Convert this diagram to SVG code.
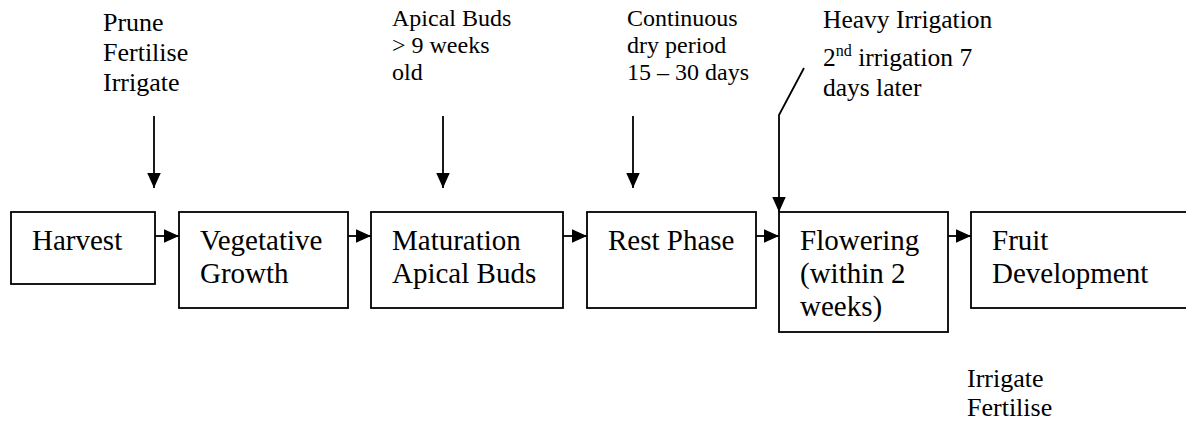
<svg xmlns="http://www.w3.org/2000/svg" width="1186" height="425" viewBox="0 0 1186 425">
<style>
.box{fill:#fff;stroke:#000;stroke-width:1.8}
.t{font-family:"Liberation Serif","Times New Roman",serif;fill:#000}
.bt{font-size:29px}
.lt{font-size:24px}
.lt2{font-size:26px}
.c{stroke:#000;stroke-width:1.8;fill:none}
</style>
<defs>
<marker id="ahv" viewBox="0 0 10 10" refX="10" refY="5" markerWidth="15" markerHeight="15" orient="auto" markerUnits="userSpaceOnUse">
<path d="M0,0.5 L10,5 L0,9.5 z" fill="#000"/>
</marker>
</defs>
<rect width="1186" height="425" fill="#fff"/>

<g id="connectors">
<line class="c" x1="155" y1="236" x2="179" y2="236" marker-end="url(#ahv)"/>
<line class="c" x1="348" y1="236" x2="371" y2="236" marker-end="url(#ahv)"/>
<line class="c" x1="563" y1="236" x2="587" y2="236" marker-end="url(#ahv)"/>
<line class="c" x1="756" y1="236" x2="779" y2="236" marker-end="url(#ahv)"/>
<line class="c" x1="948" y1="236" x2="971" y2="236" marker-end="url(#ahv)"/>
<line class="c" x1="154" y1="116" x2="154" y2="188" marker-end="url(#ahv)"/>
<line class="c" x1="443" y1="116" x2="443" y2="188" marker-end="url(#ahv)"/>
<line class="c" x1="633" y1="116" x2="633" y2="188" marker-end="url(#ahv)"/>
<polyline class="c" points="804,68 779,115 779,212" marker-end="url(#ahv)"/>
</g>

<g id="harvest">
<rect class="box" x="11" y="212" width="144" height="72"/>
<text class="t bt" x="32" y="250">Harvest</text>
</g>
<g id="vegetative">
<rect class="box" x="179" y="212" width="169" height="96"/>
<text class="t bt" x="200" y="250">Vegetative</text>
<text class="t bt" x="200" y="283">Growth</text>
</g>
<g id="maturation">
<rect class="box" x="371" y="212" width="192" height="96"/>
<text class="t bt" x="392" y="250">Maturation</text>
<text class="t bt" x="392" y="283">Apical Buds</text>
</g>
<g id="rest">
<rect class="box" x="587" y="212" width="169" height="96"/>
<text class="t bt" x="608" y="250">Rest Phase</text>
</g>
<g id="flowering">
<rect class="box" x="779" y="212" width="169" height="120"/>
<text class="t bt" x="800" y="250">Flowering</text>
<text class="t bt" x="800" y="283">(within 2</text>
<text class="t bt" x="800" y="316">weeks)</text>
</g>
<g id="fruit">
<rect class="box" x="971" y="212" width="230" height="96"/>
<text class="t bt" x="992" y="250">Fruit</text>
<text class="t bt" x="992" y="283">Development</text>
</g>

<g id="label-prune">
<text class="t lt2" x="103" y="31">Prune</text>
<text class="t lt2" x="103" y="61">Fertilise</text>
<text class="t lt2" x="103" y="91">Irrigate</text>
</g>
<g id="label-apical">
<text class="t lt" x="392" y="26">Apical Buds</text>
<text class="t lt" x="392" y="53">&gt; 9 weeks</text>
<text class="t lt" x="392" y="80">old</text>
</g>
<g id="label-dry">
<text class="t lt" x="627" y="26">Continuous</text>
<text class="t lt" x="627" y="53">dry period</text>
<text class="t lt" x="627" y="80">15 – 30 days</text>
</g>
<g id="label-irrigation">
<text class="t" font-size="25.5" x="823" y="28">Heavy Irrigation</text>
<text class="t" font-size="25.5" x="823" y="66">2<tspan font-size="16" dy="-10">nd</tspan><tspan dy="10"> irrigation 7</tspan></text>
<text class="t" font-size="25.5" x="823" y="96">days later</text>
</g>
<g id="label-bottom">
<text class="t lt2" x="967" y="387">Irrigate</text>
<text class="t lt2" x="967" y="416">Fertilise</text>
</g>
</svg>
